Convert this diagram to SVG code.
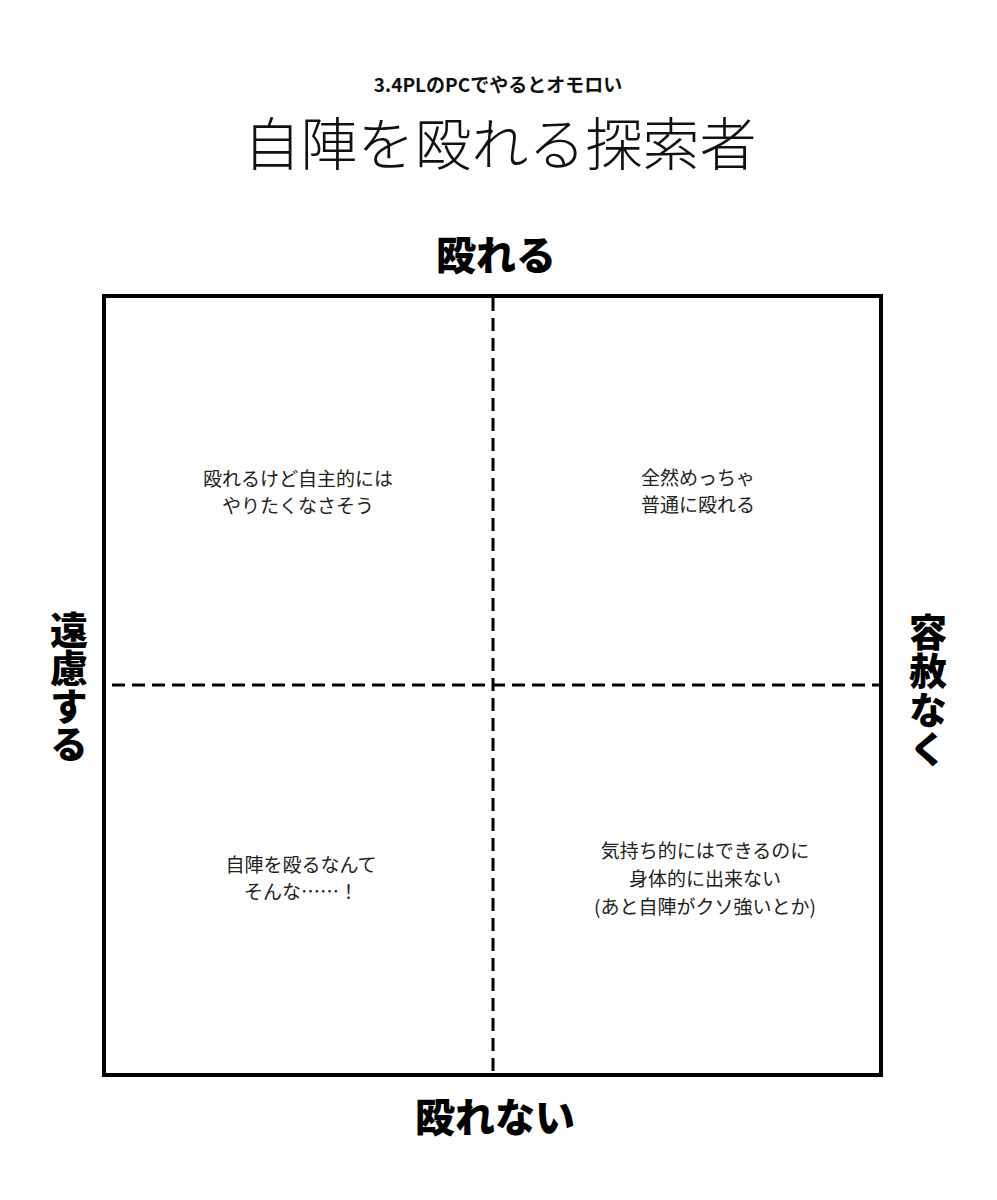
<svg xmlns="http://www.w3.org/2000/svg" width="997" height="1200" viewBox="0 0 997 1200">
<style>
.sub{font-family:"Noto Sans CJK JP","Noto Sans",sans-serif;font-weight:700;font-size:19px;fill:#111;text-anchor:middle}
.title{font-family:"Noto Sans CJK JP",sans-serif;font-weight:300;font-size:57px;fill:#111;text-anchor:middle}
.axis{font-family:"Noto Sans CJK JP",sans-serif;font-weight:900;font-size:40px;fill:#000;text-anchor:middle}
.vaxis{font-family:"Noto Sans CJK JP",sans-serif;font-weight:900;font-size:38px;fill:#000;text-anchor:middle;writing-mode:vertical-rl}
.q{font-family:"Noto Sans CJK JP",sans-serif;font-weight:400;font-size:19px;fill:#222;text-anchor:middle}
.dash{stroke:#000;stroke-width:3;stroke-dasharray:13 7;fill:none}
</style>
<rect width="997" height="1200" fill="#fff"/>
<g id="header">
<text class="sub" x="498" y="92">3.4PLのPCでやるとオモロい</text>
<text class="title" x="500" y="165">自陣を殴れる探索者</text>
</g>
<g id="frame">
<rect x="104" y="296" width="777" height="779" fill="none" stroke="#000" stroke-width="4"/>
</g>
<g id="connectors">
<line class="dash" x1="493" y1="298" x2="493" y2="1073"/>
<line class="dash" x1="112" y1="685" x2="880" y2="685"/>
</g>
<g id="axis-top"><text class="axis" x="496" y="270">殴れる</text></g>
<g id="axis-bottom"><text class="axis" x="495" y="1132">殴れない</text></g>
<g id="axis-left"><text class="vaxis" x="69" y="687">遠慮する</text></g>
<g id="axis-right"><text class="vaxis" x="928" y="691" style="letter-spacing:1px">容赦なく</text></g>
<g id="q-top-left">
<text class="q" x="298" y="486">殴れるけど自主的には</text>
<text class="q" x="298" y="513">やりたくなさそう</text>
</g>
<g id="q-top-right">
<text class="q" x="698" y="485">全然めっちゃ</text>
<text class="q" x="698" y="512">普通に殴れる</text>
</g>
<g id="q-bottom-left">
<text class="q" x="301" y="872">自陣を殴るなんて</text>
<text class="q" x="301" y="899">そんな……！</text>
</g>
<g id="q-bottom-right">
<text class="q" x="705" y="858">気持ち的にはできるのに</text>
<text class="q" x="705" y="886">身体的に出来ない</text>
<text class="q" x="705" y="914">(あと自陣がクソ強いとか)</text>
</g>
</svg>
